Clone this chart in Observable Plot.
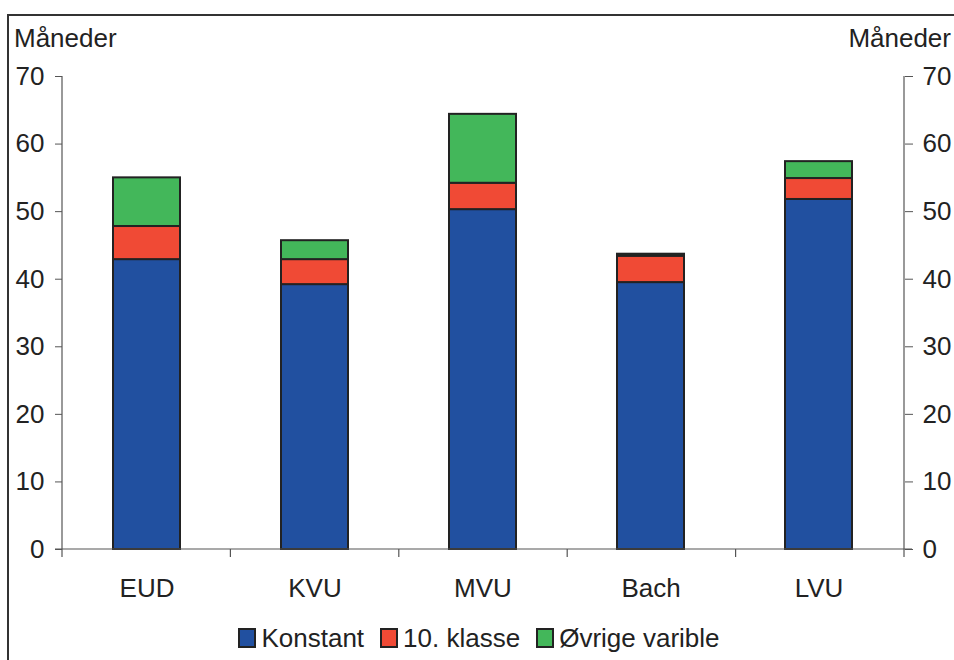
<!DOCTYPE html>
<html><head><meta charset="utf-8">
<script src="https://cdn.jsdelivr.net/npm/d3@7"></script>
<script src="https://cdn.jsdelivr.net/npm/@observablehq/plot@0.6"></script>
<style>
body{margin:0;background:#fff;font-family:"Liberation Sans",Arial,sans-serif;color:#222;}
#wrap{position:relative;width:954px;height:660px;overflow:hidden;background:#fff;}
#frame{position:absolute;left:7px;top:14px;width:1000px;height:700px;border-left:2px solid #333;border-top:2px solid #333;box-sizing:border-box;pointer-events:none;}
#chart{position:absolute;left:0;top:0;}
#chart svg text{font-size:26px !important;fill:#222;}
.unit{position:absolute;top:23px;font-size:26px;line-height:30px;}
#legend{position:absolute;top:623px;left:0;width:954px;display:flex;justify-content:center;align-items:center;font-size:26px;line-height:30px;padding-left:4px;box-sizing:border-box;}
.item{display:flex;align-items:center;margin:0 16px 0 0;}
.item:last-child{margin-right:0;}
.sw{width:14px;height:16px;border:2px solid #222;margin-right:5px;}
</style>
</head><body>
<div id="wrap">
  <div id="chart"></div>
  <div class="unit" style="left:14px">Måneder</div>
  <div class="unit" style="right:3px">Måneder</div>
  <div id="legend"></div>
  <div id="frame"></div>
</div>
<script>
const categories = ["EUD", "KVU", "MVU", "Bach", "LVU"];
const seriesNames = ["Konstant", "10. klasse", "Øvrige varible"];
const seriesColors = ["#2150a0", "#f04a35", "#43b75a"];
const konstant = [42.9, 39.2, 50.3, 39.5, 51.8];
const tiende = [4.9, 3.7, 3.9, 3.9, 3.1];
const ovrige = [7.2, 2.8, 10.2, 0.3, 2.5];
const yTicks = [0, 10, 20, 30, 40, 50, 60, 70];

const seriesValues = [konstant, tiende, ovrige];
const data = [];
seriesNames.forEach((s, si) => {
  categories.forEach((c, ci) => data.push({cat: c, series: s, value: seriesValues[si][ci]}));
});

const axisLines = (index, scales, values, dims) => {
  const y = scales.y;
  const L = dims.marginLeft, R = dims.width - dims.marginRight;
  const y0 = y(0), yTop = y(70);
  const n = categories.length;
  const step = (R - L) / n;
  const g = d3.create("svg:g").attr("stroke", "#555").attr("stroke-width", 1.2).attr("fill", "none");
  g.append("line").attr("x1", L).attr("x2", L).attr("y1", yTop).attr("y2", y0 + 8);
  g.append("line").attr("x1", R).attr("x2", R).attr("y1", yTop).attr("y2", y0 + 8);
  g.append("line").attr("x1", L - 7).attr("x2", R + 8).attr("y1", y0).attr("y2", y0);
  for (let k = 1; k < n; k++) {
    const xx = L + k * step;
    g.append("line").attr("x1", xx).attr("x2", xx).attr("y1", y0).attr("y2", y0 + 8);
  }
  return g.node();
};

const chart = Plot.plot({
  width: 954,
  height: 610,
  marginLeft: 62,
  marginRight: 50,
  marginTop: 76,
  marginBottom: 61,
  style: {fontFamily: "'Liberation Sans', Arial, sans-serif", fontSize: "26px", color: "#222", background: "transparent"},
  x: {domain: categories, paddingInner: 0.6, paddingOuter: 0.3, label: null},
  y: {domain: [0, 70], label: null},
  color: {domain: seriesNames, range: seriesColors},
  marks: [
    Plot.barY(data, {x: "cat", y: "value", fill: "series", stroke: "#222", strokeWidth: 2, order: seriesNames}),
    Plot.axisX({tickSize: 0, tickPadding: 29, label: null}),
    Plot.axisY({anchor: "left", ticks: yTicks, tickSize: 7, tickPadding: 11, label: null, stroke: "#555"}),
    Plot.axisY({anchor: "right", ticks: yTicks, tickSize: 8, tickPadding: 10, label: null, stroke: "#555"}),
    axisLines
  ]
});
document.getElementById("chart").appendChild(chart);

const legend = document.getElementById("legend");
seriesNames.forEach((s, i) => {
  const it = document.createElement("div");
  it.className = "item";
  const sw = document.createElement("div");
  sw.className = "sw";
  sw.style.background = seriesColors[i];
  const t = document.createElement("span");
  t.textContent = s;
  it.appendChild(sw); it.appendChild(t);
  legend.appendChild(it);
});
</script>
</body></html>
